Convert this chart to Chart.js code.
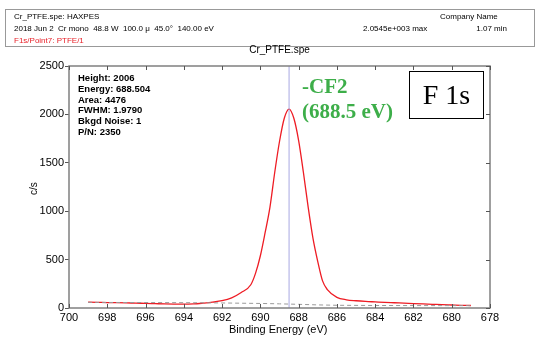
<!DOCTYPE html>
<html>
<head>
<meta charset="utf-8">
<script src="https://cdn.jsdelivr.net/npm/chart.js@4/dist/chart.umd.min.js"></script>
<style>
    body { margin: 0; background: #fff; font-family: "Liberation Sans", Arial, sans-serif; }
    #wrap { position: relative; width: 540px; height: 337px; }
    .txt { position: absolute; white-space: nowrap; line-height: 1; }
    #header { position: absolute; left: 5px; top: 9px; width: 530px; height: 38px; border: 1px solid #999; box-sizing: border-box; }
</style>
</head>
<body>
<div id="wrap">
    <canvas id="xps-chart" width="540" height="337"></canvas>
    <div id="header"></div>
    <div class="txt" style="left:14px;top:13px;font-size:8px;">Cr_PTFE.spe: HAXPES</div>
    <div class="txt" style="left:14px;top:25px;font-size:8px;">2018 Jun 2&nbsp; Cr mono&nbsp; 48.8 W&nbsp; 100.0 &mu;&nbsp; 45.0&deg;&nbsp; 140.00 eV</div>
    <div class="txt" style="left:14px;top:37px;font-size:8px;color:#e8222a;">F1s/Point7: PTFE/1</div>
    <div class="txt" style="left:440px;top:13px;font-size:8px;">Company Name</div>
    <div class="txt" style="left:363px;top:25px;font-size:8px;">2.0545e+003 max</div>
    <div class="txt" style="right:33px;top:25px;font-size:8px;">1.07 min</div>
    <div class="txt" style="left:0;width:559px;text-align:center;top:45px;font-size:10px;">Cr_PTFE.spe</div>
    <div class="txt" style="left:229px;top:324px;font-size:11px;">Binding Energy (eV)</div>
    <div class="txt" style="left:29px;top:195px;font-size:10px;transform:rotate(-90deg);transform-origin:left top;">c/s</div>
    <div class="txt" style="left:78px;top:73px;font-size:9.5px;font-weight:bold;line-height:10.8px;">Height: 2006<br>Energy: 688.504<br>Area: 4476<br>FWHM: 1.9790<br>Bkgd Noise: 1<br>P/N: 2350</div>
    <div class="txt" style="left:302px;top:76px;font-size:21px;font-weight:bold;color:#3dae49;font-family:'Liberation Serif',serif;">-CF2</div>
    <div class="txt" style="left:302px;top:101px;font-size:21px;font-weight:bold;color:#3dae49;font-family:'Liberation Serif',serif;">(688.5 eV)</div>
    <div class="txt" style="left:409px;top:71px;width:75px;height:48px;border:1.5px solid #000;box-sizing:border-box;font-family:'Liberation Serif',serif;font-size:28px;text-align:center;line-height:45px;">F 1s</div>
</div>
<script>
// binding energy (eV) and counts (c/s)
const energies = [699, 698.5, 698, 697.5, 697, 696.5, 696, 695.5, 695, 694.5, 694, 693.5, 693, 692.5, 692, 691.5, 691,
    690.5, 690.25, 690, 689.75, 689.5, 689.25, 689, 688.75, 688.5, 688.25, 688, 687.75, 687.5, 687.25, 687, 686.75, 686.5,
    686, 685.5, 685, 684.5, 684, 683.5, 683, 682.5, 682, 681.5, 681, 680.5, 680, 679.5, 679];
const counts = [60, 58, 56, 55, 53, 50, 48, 45, 42, 40, 39, 42, 50, 60, 75, 105, 160,
    240, 360, 540, 780, 1040, 1400, 1720, 1960, 2055, 1960, 1730, 1400, 1040, 720, 480, 280, 190,
    110, 85, 75, 68, 63, 58, 54, 50, 46, 42, 38, 34, 31, 28, 26];

// Shirley-like background (dashed)
const bgEnergies = [699, 694, 692, 690, 689, 688, 687, 686, 684, 679];
const bgCounts = [58, 55, 52, 47, 43, 38, 32, 28, 26, 24];

const peakEnergy = 688.5;
const yTicks = [0, 500, 1000, 1500, 2000, 2500];
const xTicks = [700, 698, 696, 694, 692, 690, 688, 686, 684, 682, 680, 678];

// frame with inward ticks on top, right and bottom
const framePlugin = {
    id: 'frame',
    afterDatasetsDraw(chart) {
        const ctx = chart.ctx;
        const a = chart.chartArea;
        const xs = chart.scales.x, ys = chart.scales.y;
        ctx.save();
        ctx.strokeStyle = '#808080';
        ctx.lineWidth = 1.5;
        ctx.strokeRect(a.left, a.top, a.right - a.left, a.bottom - a.top);
        ctx.lineWidth = 1;
        ctx.strokeStyle = '#555';
        ctx.beginPath();
        xTicks.forEach(v => {
            let px = Math.round(xs.getPixelForValue(v)) + 0.5;
            ctx.moveTo(px, a.bottom); ctx.lineTo(px, a.bottom - 4);
            ctx.moveTo(px, a.top); ctx.lineTo(px, a.top + 4);
        });
        yTicks.forEach(v => {
            let py = Math.round(ys.getPixelForValue(v)) + 0.5;
            ctx.moveTo(a.right, py); ctx.lineTo(a.right - 4, py);
        });
        ctx.stroke();
        ctx.restore();
    }
};

new Chart(document.getElementById('xps-chart').getContext('2d'), {
    type: 'line',
    data: {
        datasets: [{
            data: [{x: peakEnergy, y: 0}, {x: peakEnergy, y: 2500}],
            borderColor: '#a9a9e2',
            borderWidth: 1,
            pointRadius: 0
        }, {
            data: bgEnergies.map((e, i) => ({x: e, y: bgCounts[i]})),
            borderColor: '#999',
            borderWidth: 1,
            borderDash: [4, 3],
            pointRadius: 0
        }, {
            data: energies.map((e, i) => ({x: e, y: counts[i]})),
            borderColor: '#ee1c24',
            borderWidth: 1.3,
            pointRadius: 0,
            tension: 0.35,
            cubicInterpolationMode: 'monotone'
        }]
    },
    options: {
        responsive: false,
        animation: false,
        layout: { padding: { left: 0, right: 50, top: 66, bottom: 0 } },
        plugins: { legend: { display: false }, tooltip: { enabled: false } },
        scales: {
            x: {
                type: 'linear',
                reverse: true,
                min: 678,
                max: 700,
                afterBuildTicks: scale => { scale.ticks = xTicks.map(v => ({value: v})); },
                ticks: { color: '#000', font: { size: 11, family: 'Liberation Sans' }, padding: -5, maxRotation: 0, callback: v => String(v) },
                grid: { display: false },
                border: { display: false },
                afterFit: scale => { scale.height = 29; }
            },
            y: {
                min: 0,
                max: 2500,
                afterBuildTicks: scale => { scale.ticks = yTicks.map(v => ({value: v})); },
                ticks: { color: '#000', font: { size: 11, family: 'Liberation Sans' }, padding: 1, callback: v => String(v) },
                grid: { drawOnChartArea: false, tickLength: 4, color: '#555' },
                border: { display: false },
                afterFit: scale => { scale.width = 69; }
            }
        }
    },
    plugins: [framePlugin]
});
</script>
</body>
</html>
